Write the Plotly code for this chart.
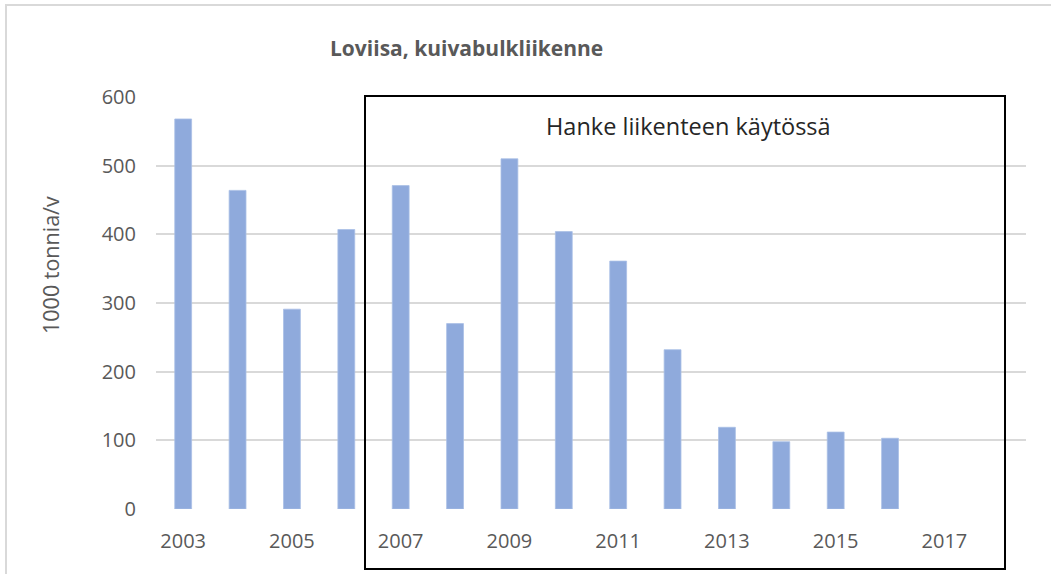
import plotly.graph_objects as go

years = [2003, 2004, 2005, 2006, 2007, 2008, 2009, 2010, 2011, 2012, 2013, 2014, 2015, 2016]
values = [568, 464, 291, 407, 471, 270, 510, 404, 361, 232, 119, 98, 112, 103]
tick_years = [2003, 2005, 2007, 2009, 2011, 2013, 2015, 2017]
tick_labels = [str(y) for y in tick_years]
y_ticks = [0, 100, 200, 300, 400, 500, 600]

title_text = "Loviisa, kuivabulkliikenne"
y_title = "1000 tonnia/v"
box_text = "Hanke liikenteen käytössä"

FONT = "Open Sans"
GRAY = "#595959"

fig = go.Figure()
fig.add_trace(go.Bar(
    x=years, y=values, width=0.31,
    marker=dict(color="#8FAADC", line=dict(color="#A9BFE6", width=0.8)),
    showlegend=False, hoverinfo="x+y",
))

W, H = 1051, 574
L, R, T, B = 156, 25, 97, 65
pw, ph = W - L - R, H - T - B

def px_x(x):
    return (x - L) / pw

def px_y(y):
    return (H - B - y) / ph

fig.update_layout(
    width=W, height=H,
    margin=dict(l=L, r=R, t=T, b=B),
    paper_bgcolor="white", plot_bgcolor="white",
    font=dict(family=FONT, color=GRAY),
    xaxis=dict(
        range=[2002.5, 2018.5], tickmode="array", tickvals=tick_years, ticktext=tick_labels,
        showgrid=False, zeroline=False, showline=False, ticks="",
        tickfont=dict(size=20, color=GRAY, family=FONT), ticklabelstandoff=18,
    ),
    yaxis=dict(
        range=[0, 600], tickmode="array", tickvals=y_ticks,
        showgrid=True, gridcolor="#D9D9D9", gridwidth=2, zeroline=False, showline=False,
        ticks="", tickfont=dict(size=20, color=GRAY, family=FONT), ticklabelstandoff=19,
    ),
    shapes=[
        dict(type="rect", xref="paper", yref="paper",
             x0=px_x(6), x1=px_x(1200), y0=px_y(700), y1=px_y(5),
             line=dict(color="#D9D9D9", width=2), fillcolor="rgba(0,0,0,0)", layer="below"),
        dict(type="rect", xref="paper", yref="paper",
             x0=px_x(365), x1=px_x(1005), y0=px_y(569), y1=px_y(96),
             line=dict(color="black", width=2), fillcolor="rgba(0,0,0,0)"),
    ],
    annotations=[
        dict(text="<b>" + title_text + "</b>", xref="paper", yref="paper",
             x=px_x(466), y=px_y(48), showarrow=False,
             font=dict(size=21, color=GRAY, family=FONT), xanchor="center", yanchor="middle"),
        dict(text=y_title, xref="paper", yref="paper", textangle=-90,
             x=px_x(50), y=px_y(265), showarrow=False,
             font=dict(size=21.5, color=GRAY, family=FONT), xanchor="center", yanchor="middle"),
        dict(text=box_text, xref="paper", yref="paper",
             x=px_x(688), y=px_y(126), showarrow=False,
             font=dict(size=23.5, color="#262626", family=FONT), xanchor="center", yanchor="middle"),
    ],
)

fig.write_html(
    "out.html",
    config={"displayModeBar": False},
    post_script="document.body.style.margin='0px';document.body.style.overflow='hidden';",
)
